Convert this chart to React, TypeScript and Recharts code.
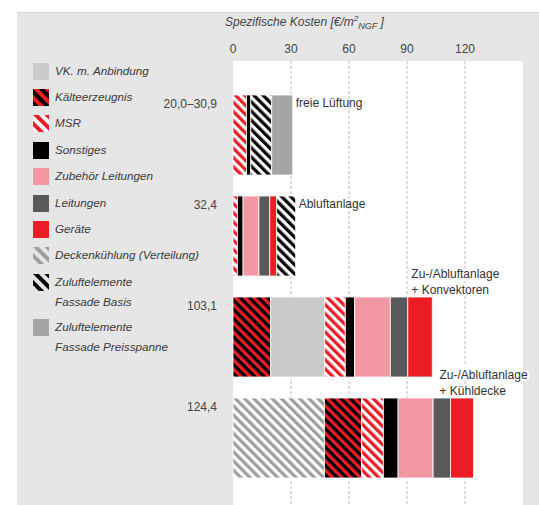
import { Bar, BarChart, CartesianGrid, LabelList, XAxis, YAxis } from 'recharts';

const categories = ['20,0–30,9', '32,4', '103,1', '124,4'];
const deckenkuehlung = [0, 0, 0, 47.3];
const kaelteerzeugnis = [0, 0, 19.5, 19.3];
const vkAnbindung = [0, 0, 27.9, 0];
const msr = [7.0, 2.3, 10.7, 11.2];
const sonstiges = [2.2, 2.9, 4.8, 7.6];
const zubehoerLeitungen = [0, 8.2, 18.5, 18.1];
const leitungen = [0, 5.6, 9.0, 9.0];
const geraete = [0, 3.6, 12.7, 11.9];
const zuluftBasis = [10.8, 9.8, 0, 0];
const zuluftPreisspanne = [10.9, 0, 0, 0];
const notes = [['freie Lüftung'], ['Abluftanlage'], ['Zu-/Abluftanlage', '+ Konvektoren'], ['Zu-/Abluftanlage', '+ Kühldecke']];
const xTicks = [0, 30, 60, 90, 120];

const FONT = '"Liberation Sans", Arial, sans-serif';
const RED = '#ec1c24';
const PLOT_LEFT = 233;
const PLOT_RIGHT = 523;

// stacking order, left to right
const SERIES = [
  { key: 'decken', name: 'Deckenkühlung (Verteilung)', fill: 'url(#pDecken)' },
  { key: 'kaelte', name: 'Kälteerzeugnis', fill: 'url(#pKaelte)' },
  { key: 'vk', name: 'VK. m. Anbindung', fill: '#cbcac8' },
  { key: 'msr', name: 'MSR', fill: 'url(#pMsr)' },
  { key: 'sonst', name: 'Sonstiges', fill: '#000000' },
  { key: 'zubehoer', name: 'Zubehör Leitungen', fill: '#f297a1' },
  { key: 'leit', name: 'Leitungen', fill: '#595959' },
  { key: 'geraete', name: 'Geräte', fill: RED },
  { key: 'basis', name: 'Zuluftelemente Fassade Basis', fill: 'url(#pBasis)' },
  { key: 'preis', name: 'Zuluftelemente Fassade Preisspanne', fill: '#a5a5a5' },
];

const LEGEND = [
  { lines: ['VK. m. Anbindung'], swatch: ['#cbcac8'] },
  { lines: ['Kälteerzeugnis'], swatch: [RED, '#000'] },
  { lines: ['MSR'], swatch: [RED, '#fff'] },
  { lines: ['Sonstiges'], swatch: ['#000'] },
  { lines: ['Zubehör Leitungen'], swatch: ['#f297a1'] },
  { lines: ['Leitungen'], swatch: ['#595959'] },
  { lines: ['Geräte'], swatch: [RED] },
  { lines: ['Deckenkühlung (Verteilung)'], swatch: ['#9e9e9e', '#e6e6e6'] },
  { lines: ['Zuluftelemente', 'Fassade Basis'], swatch: ['#000', '#e6e6e6'] },
  { lines: ['Zuluftelemente', 'Fassade Preisspanne'], swatch: ['#a5a5a5'] },
];

const data = categories.map((name, i) => ({
  name,
  decken: deckenkuehlung[i],
  kaelte: kaelteerzeugnis[i],
  vk: vkAnbindung[i],
  msr: msr[i],
  sonst: sonstiges[i],
  zubehoer: zubehoerLeitungen[i],
  leit: leitungen[i],
  geraete: geraete[i],
  basis: zuluftBasis[i],
  preis: zuluftPreisspanne[i],
}));

// key of the rightmost non-empty segment in each row
const lastKey = data.map((row: any) => {
  let k = '';
  SERIES.forEach((s) => {
    if (row[s.key] > 0) k = s.key;
  });
  return k;
});

function Stripes({ id, a, b, size = 6.5 }: { id: string; a: string; b: string; size?: number }) {
  return (
    <pattern id={id} width={size} height={size} patternUnits="userSpaceOnUse" patternTransform="rotate(-45)">
      <rect width={size} height={size} fill={b} />
      <rect width={size / 2} height={size} fill={a} />
    </pattern>
  );
}

function Swatch({ colors, idx }: { colors: string[]; idx: number }) {
  const id = `lg${idx}`;
  return (
    <svg width={16} height={17} style={{ flex: 'none', marginTop: 2 }}>
      {colors.length > 1 && (
        <defs>
          <Stripes id={id} a={colors[0]} b={colors[1]} size={8} />
        </defs>
      )}
      <rect width={16} height={17} fill={colors.length > 1 ? `url(#${id})` : colors[0]} />
    </svg>
  );
}

function LegendList() {
  return (
    <div
      style={{
        position: 'absolute',
        left: 33,
        top: 60.7,
        width: 190,
        fontFamily: FONT,
        fontSize: 11.7,
        fontStyle: 'italic',
        color: '#3a3a3a',
      }}
    >
      {LEGEND.map((item, i) => (
        <div key={i} style={{ display: 'flex', height: item.lines.length > 1 ? 45 : 26.4 }}>
          <Swatch colors={item.swatch} idx={i} />
          <div style={{ marginLeft: 6, lineHeight: '20px' }}>
            {item.lines.map((l) => (
              <div key={l}>{l}</div>
            ))}
          </div>
        </div>
      ))}
    </div>
  );
}

function CategoryTick({ x, y, payload }: any) {
  return (
    <text x={x - 8} y={y - 27} textAnchor="end" fontFamily={FONT} fontSize={12} fill="#444">
      {payload.value}
    </text>
  );
}

// dashed grid lines, without the ones on the plot edges
function GridLine(p: any) {
  if (p.x1 < PLOT_LEFT + 1 || p.x1 > PLOT_RIGHT - 1) return <g key={p.key} />;
  return <line key={p.key} x1={p.x1} y1={p.y1} x2={p.x2} y2={p.y2} stroke="#bdbdbd" strokeDasharray="3 2" />;
}

function renderNote(props: any, key: string) {
  const { x, y, width, value } = props;
  const row = categories.indexOf(value);
  if (row < 0 || lastKey[row] !== key) return null;
  const end = x + width;
  const lines = notes[row];
  const beside = lines.length === 1;
  const tx = beside ? end + 3 : end - (row === 2 ? 21 : 34);
  const ty = beside ? y + 12 : y - 19;
  return (
    <text
      key={`n${row}`}
      x={tx}
      y={ty}
      fontFamily={FONT}
      fontSize={12}
      fill="#333"
      stroke="#fff"
      strokeWidth={beside ? 0 : 4}
      paintOrder="stroke"
    >
      {lines.map((l, k) => (
        <tspan key={k} x={tx} dy={k === 0 ? 0 : 16}>
          {l}
        </tspan>
      ))}
    </text>
  );
}

function AxisTitle() {
  return (
    <text x={225} y={26} fontFamily={FONT} fontSize={12} fontStyle="italic" fill="#444">
      Spezifische Kosten [€/m
      <tspan dy={-5} fontSize={8}>2</tspan>
      <tspan dy={8} fontSize={9}>NGF</tspan>
      <tspan dy={-3}> ]</tspan>
    </text>
  );
}

export default function App() {
  return (
    <div style={{ position: 'absolute', left: 0, top: 0, width: 539, height: 505, background: '#fff' }}>
      <div style={{ position: 'absolute', left: 17, top: 12, width: 522, height: 493, background: '#e6e6e6', borderTop: '1px solid #d6d6d6' }} />
      <div style={{ position: 'absolute', left: PLOT_LEFT, top: 61, width: PLOT_RIGHT - PLOT_LEFT, height: 444, background: '#fff' }} />
      <LegendList />
      <BarChart
        width={539}
        height={505}
        data={data}
        layout="vertical"
        margin={{ top: 41, right: 539 - PLOT_RIGHT, bottom: 0, left: PLOT_LEFT - 80 }}
        barSize={80}
        style={{ position: 'absolute', left: 0, top: 0 }}
      >
        <defs>
          <Stripes id="pDecken" a="#9e9e9e" b="#ffffff" />
          <Stripes id="pKaelte" a={RED} b="#000000" />
          <Stripes id="pMsr" a={RED} b="#ffffff" />
          <Stripes id="pBasis" a="#000000" b="#ffffff" />
        </defs>
        <CartesianGrid horizontal={false} vertical={GridLine} />
        <XAxis
          type="number"
          orientation="top"
          domain={[0, 150]}
          ticks={xTicks}
          axisLine={false}
          tickLine={false}
          height={20}
          tick={{ fontFamily: FONT, fontSize: 12, fill: '#444' }}
          label={<AxisTitle />}
        />
        <YAxis
          type="category"
          dataKey="name"
          width={80}
          axisLine={false}
          tickLine={false}
          padding={{ top: 23, bottom: 17 }}
          tick={<CategoryTick />}
        />
        {SERIES.map((s) => (
          <Bar key={s.key} dataKey={s.key} name={s.name} stackId="a" fill={s.fill} stroke="#fff" strokeWidth={0.8} isAnimationActive={false}>
            <LabelList dataKey="name" content={(p: any) => renderNote(p, s.key)} />
          </Bar>
        ))}
      </BarChart>
    </div>
  );
}
